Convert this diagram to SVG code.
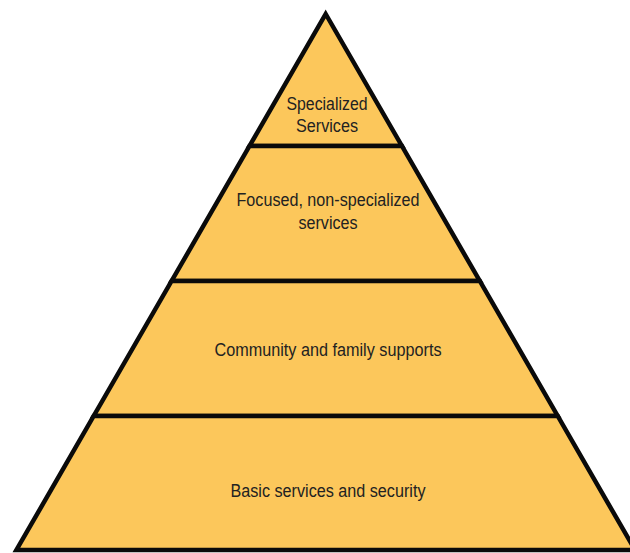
<svg xmlns="http://www.w3.org/2000/svg" width="630" height="553" viewBox="0 0 630 553">
<style>
.tier{fill:#FCC75B;stroke:#0a0a0a;stroke-width:4.5;stroke-linejoin:miter}
.lbl{font-family:"Liberation Sans",Arial,sans-serif;font-size:17.5px;fill:#222;text-anchor:middle}
</style>
<rect width="630" height="553" fill="#fff"/>
<g id="tier4">
<polygon class="tier" points="325.7,14 401.9,146 249.5,146"/>
<text class="lbl" x="327" y="110" textLength="81" lengthAdjust="spacingAndGlyphs">Specialized</text>
<text class="lbl" x="327" y="132" textLength="62" lengthAdjust="spacingAndGlyphs">Services</text>
</g>
<g id="tier3">
<polygon class="tier" points="249.5,146 401.9,146 479.8,281 171.6,281"/>
<text class="lbl" x="328" y="206" textLength="183" lengthAdjust="spacingAndGlyphs">Focused, non-specialized</text>
<text class="lbl" x="328" y="229" textLength="59" lengthAdjust="spacingAndGlyphs">services</text>
</g>
<g id="tier2">
<polygon class="tier" points="171.6,281 479.8,281 557.7,416 93.7,416"/>
<text class="lbl" x="328" y="356" textLength="227" lengthAdjust="spacingAndGlyphs">Community and family supports</text>
</g>
<g id="tier1">
<polygon class="tier" points="93.7,416 557.7,416 635,550 16.4,550"/>
<text class="lbl" x="328" y="497" textLength="195" lengthAdjust="spacingAndGlyphs">Basic services and security</text>
</g>
</svg>
